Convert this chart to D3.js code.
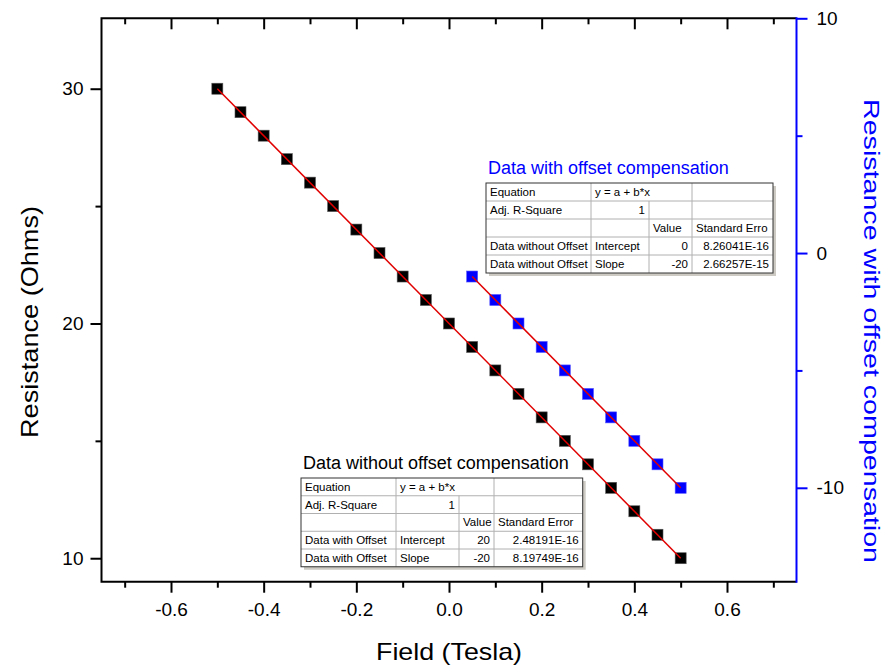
<!DOCTYPE html>
<html>
<head>
<meta charset="utf-8">
<script src="https://d3js.org/d3.v7.min.js"></script>
<title>Resistance vs field</title>
<style>
  body { margin: 0; background: #fff; }
  text { font-family: "Liberation Sans", Arial, sans-serif; }
</style>
</head>
<body>
<script>
const fieldAll = [-0.5, -0.45, -0.4, -0.35, -0.3, -0.25, -0.2, -0.15, -0.1, -0.05, 0,
                  0.05, 0.1, 0.15, 0.2, 0.25, 0.3, 0.35, 0.4, 0.45, 0.5];
const resistanceRaw = [30, 29, 28, 27, 26, 25, 24, 23, 22, 21, 20,
                       19, 18, 17, 16, 15, 14, 13, 12, 11, 10];
const fieldPos = [0.05, 0.1, 0.15, 0.2, 0.25, 0.3, 0.35, 0.4, 0.45, 0.5];
const resistanceComp = [-1, -2, -3, -4, -5, -6, -7, -8, -9, -10];

// linear fit results (intercept, slope)
const fitRaw = [20, -20];
const fitComp = [0, -20];

// ticks
const xMajor = [-0.6, -0.4, -0.2, 0, 0.2, 0.4, 0.6];
const xMinor = [-0.7, -0.5, -0.3, -0.1, 0.1, 0.3, 0.5, 0.7];
const yLeftMajor = [10, 20, 30];
const yLeftMinor = [15, 25];
const yRightMajor = [-10, 0, 10];
const yRightMinor = [-5, 5];

// fit report tables
const tableComp = [
  ["Equation", "y = a + b*x", null, ""],
  ["Adj. R-Square", "1", "", ""],
  ["", "", "Value", "Standard Erro"],
  ["Data without Offset", "Intercept", "0", "8.26041E-16"],
  ["Data without Offset", "Slope", "-20", "2.66257E-15"]
];
const tableRaw = [
  ["Equation", "y = a + b*x", null, ""],
  ["Adj. R-Square", "1", "", ""],
  ["", "", "Value", "Standard Error"],
  ["Data with Offset", "Intercept", "20", "2.48191E-16"],
  ["Data with Offset", "Slope", "-20", "8.19749E-16"]
];

var W = 886, H = 668;
var pLeft = 101.5, pRight = 796.5, pTop = 18.3, pBottom = 581.7;

var svg = d3.select("body").append("svg")
    .attr("width", W).attr("height", H);

var x = d3.scaleLinear().domain([-0.75, 0.75]).range([pLeft, pRight]);
var yL = d3.scaleLinear().domain([9, 33]).range([pBottom, pTop]);
var yR = d3.scaleLinear().domain([-14, 10]).range([pBottom, pTop]);

// plain hyphen minus, like the original
var fmt1 = function(d) { return d.toFixed(1); };
var fmt0 = function(d) { return String(d); };

function styleAxis(g, col) {
  g.selectAll(".domain").remove();
  g.selectAll(".tick line").attr("stroke", col).attr("stroke-width", 2);
  g.selectAll(".tick text").attr("fill", "#000")
    .style("font-size", "19px").style("font-family", '"Liberation Sans", Arial, sans-serif');
}

// bottom
svg.append("g").attr("transform", "translate(0," + pBottom + ")")
  .call(d3.axisBottom(x).tickValues(xMajor).tickSize(11).tickPadding(10).tickFormat(fmt1))
  .call(styleAxis, "#000");
svg.append("g").attr("transform", "translate(0," + pBottom + ")")
  .call(d3.axisBottom(x).tickValues(xMinor).tickSize(6).tickFormat(""))
  .call(styleAxis, "#000");
// top (ticks point inward)
svg.append("g").attr("transform", "translate(0," + pTop + ")")
  .call(d3.axisBottom(x).tickValues(xMajor).tickSize(11).tickFormat(""))
  .call(styleAxis, "#000");
svg.append("g").attr("transform", "translate(0," + pTop + ")")
  .call(d3.axisBottom(x).tickValues(xMinor).tickSize(6).tickFormat(""))
  .call(styleAxis, "#000");
// left
svg.append("g").attr("transform", "translate(" + pLeft + ",0)")
  .call(d3.axisLeft(yL).tickValues(yLeftMajor).tickSize(11).tickPadding(7).tickFormat(fmt0))
  .call(styleAxis, "#000");
svg.append("g").attr("transform", "translate(" + pLeft + ",0)")
  .call(d3.axisLeft(yL).tickValues(yLeftMinor).tickSize(6).tickFormat(""))
  .call(styleAxis, "#000");
// right (blue)
svg.append("g").attr("transform", "translate(" + pRight + ",0)")
  .call(d3.axisRight(yR).tickValues(yRightMajor).tickSize(11).tickPadding(9).tickFormat(fmt0))
  .call(styleAxis, "#0000ff");
svg.append("g").attr("transform", "translate(" + pRight + ",0)")
  .call(d3.axisRight(yR).tickValues(yRightMinor).tickSize(6).tickFormat(""))
  .call(styleAxis, "#0000ff");

// frame lines
svg.append("path")
  .attr("d", "M" + pRight + "," + pTop + "H" + pLeft + "V" + pBottom + "H" + pRight)
  .attr("fill", "none").attr("stroke", "#000").attr("stroke-width", 2);
svg.append("line")
  .attr("x1", pRight).attr("x2", pRight).attr("y1", pTop - 1).attr("y2", pBottom + 1)
  .attr("stroke", "#0000ff").attr("stroke-width", 2);

// axis titles
svg.append("text").attr("x", (pLeft + pRight) / 2).attr("y", 660)
  .attr("text-anchor", "middle").style("font-size", "24px")
  .attr("textLength", 146).attr("lengthAdjust", "spacingAndGlyphs")
  .text("Field (Tesla)");
svg.append("text").attr("transform", "translate(38,322) rotate(-90)")
  .attr("text-anchor", "middle").style("font-size", "24px")
  .attr("textLength", 232).attr("lengthAdjust", "spacingAndGlyphs")
  .text("Resistance (Ohms)");
svg.append("text").attr("transform", "translate(864,331) rotate(90)")
  .attr("text-anchor", "middle").style("font-size", "22.5px").attr("fill", "#0000ff")
  .attr("textLength", 464).attr("lengthAdjust", "spacingAndGlyphs")
  .text("Resistance with offset compensation");

// markers
var sq = 11;
svg.append("g").selectAll("rect")
  .data(fieldAll.map(function(f, i) { return [f, resistanceRaw[i]]; }))
  .enter().append("rect")
  .attr("x", function(d) { return x(d[0]) - sq / 2; })
  .attr("y", function(d) { return yL(d[1]) - sq / 2; })
  .attr("width", sq).attr("height", sq)
  .attr("fill", "#000").attr("stroke", "#555").attr("stroke-width", 0.6);

svg.append("g").selectAll("rect")
  .data(fieldPos.map(function(f, i) { return [f, resistanceComp[i]]; }))
  .enter().append("rect")
  .attr("x", function(d) { return x(d[0]) - sq / 2; })
  .attr("y", function(d) { return yR(d[1]) - sq / 2; })
  .attr("width", sq).attr("height", sq)
  .attr("fill", "#0000ff").attr("stroke", "#5555ff").attr("stroke-width", 0.6);

// fit lines
var xr = d3.extent(fieldAll), xc = d3.extent(fieldPos);
svg.append("line")
  .attr("x1", x(xr[0])).attr("y1", yL(fitRaw[0] + fitRaw[1] * xr[0]))
  .attr("x2", x(xr[1])).attr("y2", yL(fitRaw[0] + fitRaw[1] * xr[1]))
  .attr("stroke", "#e00000").attr("stroke-width", 1.5);
svg.append("line")
  .attr("x1", x(xc[0])).attr("y1", yR(fitComp[0] + fitComp[1] * xc[0]))
  .attr("x2", x(xc[1])).attr("y2", yR(fitComp[0] + fitComp[1] * xc[1]))
  .attr("stroke", "#e00000").attr("stroke-width", 1.5);

// fit tables
function drawTable(rows, x0, y0, cols, rowH, title, titleCol) {
  var g = svg.append("g");
  var w = cols[cols.length - 1] - x0, h = rowH * rows.length;
  g.append("text").attr("x", x0 + 2).attr("y", y0 - 9)
    .style("font-size", "18px").attr("fill", titleCol).text(title);
  g.append("rect").attr("x", x0 + 3).attr("y", y0 + 3).attr("width", w).attr("height", h)
    .attr("fill", "#cdcac3");
  g.append("rect").attr("x", x0).attr("y", y0).attr("width", w).attr("height", h)
    .attr("fill", "#fff");
  var clipId = "clip" + Math.round(x0);
  g.append("clipPath").attr("id", clipId).append("rect")
    .attr("x", x0).attr("y", y0).attr("width", w).attr("height", h);
  rows.forEach(function(r, i) {
    var ry = y0 + i * rowH;
    if (i > 0) g.append("line").attr("x1", x0).attr("x2", x0 + w)
      .attr("y1", ry).attr("y2", ry).attr("stroke", "#b0b0b0");
    r.forEach(function(c, j) {
      if (c === null) return;
      var cx0 = j === 0 ? x0 : cols[j - 1];
      var span = (r[j + 1] === null) ? 2 : 1;
      var cx1 = cols[j + span - 1];
      if (j > 0) g.append("line").attr("x1", cx0).attr("x2", cx0)
        .attr("y1", ry).attr("y2", ry + rowH).attr("stroke", "#b0b0b0");
      var isNum = /^-?[0-9]/.test(c);
      g.append("text")
        .attr("x", isNum ? cx1 - 4 : cx0 + 4)
        .attr("y", ry + rowH - 5)
        .attr("text-anchor", isNum ? "end" : "start")
        .attr("clip-path", "url(#" + clipId + ")")
        .style("font-size", "11.5px").text(c);
    });
  });
  g.append("rect").attr("x", x0).attr("y", y0).attr("width", w).attr("height", h)
    .attr("fill", "none").attr("stroke", "#333").attr("stroke-width", 1);
}

drawTable(tableComp, 486, 183, [591, 649, 692, 773], 18, "Data with offset compensation", "#0000ff");
drawTable(tableRaw, 301, 478, [396, 459, 494, 582.7], 17.75, "Data without offset compensation", "#000");
</script>
</body>
</html>
